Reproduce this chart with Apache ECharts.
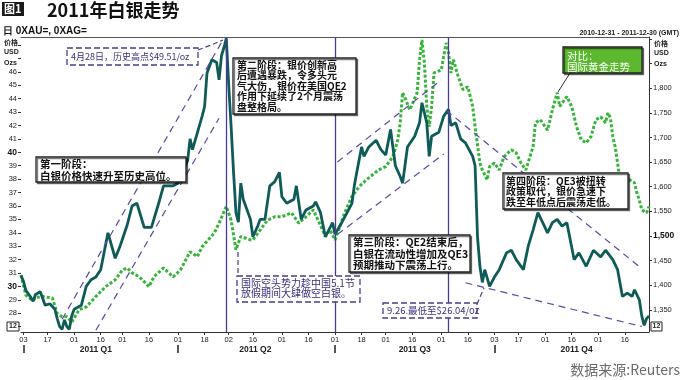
<!DOCTYPE html>
<html><head><meta charset="utf-8">
<script src="https://cdn.jsdelivr.net/npm/echarts@6/dist/echarts.min.js"></script>
<style>html,body{margin:0;padding:0;background:#fff}#c{width:680px;height:380px}</style>
</head><body><div id="c"></div>
<script>
// ---------- data ----------
const silverDates = ['2010-12-31','2011-01-03','2011-01-04','2011-01-06','2011-01-07','2011-01-10','2011-01-12','2011-01-14','2011-01-18','2011-01-20','2011-01-21','2011-01-24','2011-01-25','2011-01-26','2011-01-27','2011-01-28','2011-01-31','2011-02-01','2011-02-04','2011-02-08','2011-02-10','2011-02-14','2011-02-16','2011-02-21','2011-02-24','2011-02-28','2011-03-03','2011-03-07','2011-03-09','2011-03-14','2011-03-17','2011-03-22','2011-03-24','2011-03-30','2011-04-01','2011-04-07','2011-04-08','2011-04-11','2011-04-15','2011-04-18','2011-04-19','2011-04-21','2011-04-25','2011-04-26','2011-04-27','2011-04-28','2011-04-29','2011-05-02','2011-05-03','2011-05-04','2011-05-05','2011-05-06','2011-05-09','2011-05-10','2011-05-13','2011-05-16','2011-05-18','2011-05-19','2011-05-23','2011-05-25','2011-05-27','2011-05-31','2011-06-01','2011-06-03','2011-06-08','2011-06-09','2011-06-13','2011-06-15','2011-06-20','2011-06-21','2011-06-23','2011-06-27','2011-06-30','2011-07-01','2011-07-05','2011-07-08','2011-07-12','2011-07-13','2011-07-14','2011-07-18','2011-07-19','2011-07-21','2011-07-26','2011-07-28','2011-08-01','2011-08-03','2011-08-05','2011-08-09','2011-08-10','2011-08-12','2011-08-17','2011-08-19','2011-08-22','2011-08-24','2011-08-25','2011-08-26','2011-08-31','2011-09-02','2011-09-06','2011-09-07','2011-09-09','2011-09-13','2011-09-15','2011-09-20','2011-09-21','2011-09-22','2011-09-23','2011-09-26','2011-09-27','2011-09-29','2011-10-03','2011-10-05','2011-10-10','2011-10-12','2011-10-14','2011-10-19','2011-10-21','2011-10-25','2011-10-27','2011-10-31','2011-11-02','2011-11-04','2011-11-08','2011-11-10','2011-11-14','2011-11-17','2011-11-21','2011-11-24','2011-11-29','2011-12-02','2011-12-06','2011-12-09','2011-12-13','2011-12-15','2011-12-19','2011-12-21','2011-12-22','2011-12-26','2011-12-27','2011-12-28','2011-12-29','2011-12-30'];
const silverValues = [30.8,30.4,29.7,29.2,28.9,29.4,29.6,28.6,28.7,28.3,27.6,27.0,26.8,27.5,27.0,26.8,27.8,28.3,28.6,30.0,30.5,30.7,31.25,34.0,32.1,33.0,34.6,36.0,36.2,34.4,34.4,36.2,37.5,37.5,37.7,39.4,41.0,40.2,42.7,43.4,45.9,46.9,46.7,45.4,47.2,47.8,48.5,45.0,41.9,38.5,35.5,34.8,37.7,36.5,35.0,33.7,34.5,35.0,35.0,37.5,37.8,38.5,36.7,36.2,36.5,37.5,35.0,35.7,36.0,36.3,35.5,33.7,34.75,33.9,34.5,35.5,36.2,37.5,38.5,40.4,39.7,40.4,40.9,40.2,39.8,41.7,39.0,38.2,37.7,40.4,41.2,42.2,43.7,42.2,39.7,41.2,41.5,42.7,43.2,42.0,42.2,41.0,40.7,39.7,39.0,33.7,31.5,30.3,31.25,30.0,30.7,31.25,32.5,32.7,32.0,31.25,33.0,34.2,35.5,34.75,34.0,34.75,35.0,34.5,34.75,32.0,32.5,31.5,32.7,32.2,32.7,32.0,31.25,29.25,29.5,29.25,29.75,29.0,27.8,27.1,27.6,27.8];
const goldDates = ['2010-12-31','2011-01-04','2011-01-06','2011-01-07','2011-01-10','2011-01-13','2011-01-19','2011-01-21','2011-01-25','2011-01-27','2011-01-31','2011-02-03','2011-02-08','2011-02-14','2011-02-18','2011-02-24','2011-03-01','2011-03-03','2011-03-07','2011-03-10','2011-03-16','2011-03-18','2011-03-24','2011-03-30','2011-04-04','2011-04-08','2011-04-13','2011-04-15','2011-04-22','2011-04-26','2011-04-29','2011-05-03','2011-05-05','2011-05-09','2011-05-13','2011-05-16','2011-05-19','2011-05-24','2011-05-27','2011-06-01','2011-06-07','2011-06-10','2011-06-15','2011-06-20','2011-06-22','2011-06-27','2011-06-29','2011-07-01','2011-07-05','2011-07-07','2011-07-12','2011-07-15','2011-07-20','2011-07-27','2011-08-01','2011-08-04','2011-08-08','2011-08-09','2011-08-10','2011-08-11','2011-08-15','2011-08-18','2011-08-19','2011-08-22','2011-08-23','2011-08-24','2011-08-25','2011-08-26','2011-08-29','2011-09-01','2011-09-05','2011-09-06','2011-09-07','2011-09-08','2011-09-12','2011-09-14','2011-09-16','2011-09-20','2011-09-21','2011-09-23','2011-09-26','2011-09-28','2011-09-29','2011-10-03','2011-10-05','2011-10-07','2011-10-12','2011-10-14','2011-10-18','2011-10-20','2011-10-25','2011-10-26','2011-10-28','2011-11-02','2011-11-04','2011-11-08','2011-11-09','2011-11-14','2011-11-16','2011-11-18','2011-11-22','2011-11-24','2011-11-28','2011-11-30','2011-12-02','2011-12-06','2011-12-07','2011-12-08','2011-12-09','2011-12-12','2011-12-13','2011-12-14','2011-12-20','2011-12-22','2011-12-23','2011-12-26','2011-12-27','2011-12-29','2011-12-30'];
const goldValues = [1421,1380,1372,1369,1375,1377,1374,1343,1336,1336,1325,1350,1356,1377,1397,1411,1431,1435,1425,1417,1397,1417,1435,1417,1431,1468,1458,1478,1506,1526,1560,1532,1472,1499,1492,1492,1512,1532,1539,1539,1547,1526,1539,1553,1532,1499,1512,1492,1519,1547,1580,1600,1614,1634,1641,1661,1695,1730,1791,1780,1756,1791,1858,1898,1852,1763,1722,1763,1831,1837,1892,1872,1831,1858,1824,1797,1803,1763,1722,1648,1634,1614,1641,1648,1634,1661,1675,1669,1648,1634,1681,1730,1736,1715,1756,1791,1763,1783,1763,1722,1695,1689,1702,1736,1742,1730,1750,1740,1702,1681,1648,1614,1614,1608,1587,1573,1553,1547,1560];
const xTickDates = ['2011-01-03','2011-01-17','2011-02-01','2011-02-16','2011-03-01','2011-03-16','2011-04-01','2011-04-18','2011-05-02','2011-05-16','2011-06-01','2011-06-16','2011-07-01','2011-07-18','2011-08-01','2011-08-16','2011-09-01','2011-09-16','2011-10-03','2011-10-17','2011-11-01','2011-11-16','2011-12-01','2011-12-16'];
const quarterStarts = ['2011-01-03','2011-04-01','2011-07-01','2011-10-03'];
const quarterLabelDates = ['2011-02-14','2011-05-17','2011-08-17','2011-11-18'];
const quarterLabels = ['2011 Q1','2011 Q2','2011 Q3','2011 Q4'];
const eventDates = ['2011-04-29','2011-07-01','2011-09-06'];
const trendLines = [
  [['2011-01-25',27.55],['2011-04-27',48.19]],
  [['2011-02-14',26.73],['2011-04-26',42.54]],
  [['2011-07-04',39.28],['2011-09-01',45.40]],
  [['2011-07-04',33.88],['2011-09-02',39.87]],
  [['2011-09-05',43.13],['2011-12-27',31.33]],
  [['2011-09-15',30.27],['2011-12-27',27.01]]
];

// ---------- build ----------
const days = [];
(function(){const d=new Date(Date.UTC(2010,11,31));const e=Date.UTC(2011,11,30);
 while(d.getTime()<=e){const w=d.getUTCDay();if(w!==0&&w!==6)days.push(d.toISOString().slice(0,10));d.setUTCDate(d.getUTCDate()+1);}})();
const silver = silverDates.map((d,i)=>[d,silverValues[i]]);
const gold = goldDates.map((d,i)=>[d,goldValues[i]]);
const PURPLE='#4a3d8f', TXT='#3a2f7e';
const cjk='"Noto Sans CJK SC"';
const lab='"Liberation Sans", Arial, sans-serif';

function dashedBox(x,y,w,h){return {type:'rect',shape:{x,y,width:w,height:h},style:{fill:'rgba(255,255,255,0.9)',stroke:PURPLE,lineWidth:1.3,lineDash:[6,3]},z:50};}
function solidBox(x,y,w,h,fill){return {type:'rect',shape:{x,y,width:w,height:h},style:{fill:fill||'#fff',stroke:'#222',lineWidth:1.3,shadowColor:'rgba(0,0,0,0.5)',shadowOffsetX:1.5,shadowOffsetY:1.5,shadowBlur:0},z:50};}
function txt(x,y,t,font,fill,lh,align,va){return {type:'text',x:x,y:y,z:51,style:{text:t,font:font,fill:fill||'#111',lineHeight:lh||12,align:align||'left',verticalAlign:va||'top',textAlign:align||'left',textVerticalAlign:va||'top'}};}
function dline(pts,dash){return {type:'polyline',shape:{points:pts},style:{stroke:PURPLE,lineWidth:1.2,lineDash:dash||[5,3],fill:null},z:49};}

const graphics = [
  {type:'rect',shape:{x:2,y:2,width:22,height:14},style:{fill:'#1a1a1a'}},
  txt(4,9,'图1','bold 11px '+cjk,'#fff',12,'left','middle'),
  txt(47,10,'2011年白银走势','bold 18px '+cjk,'#111',20,'left','middle'),
  txt(3,31,'日 0XAU=, 0XAG=','bold 10px '+lab,'#111',12,'left','middle'),
  txt(679,33,'2010-12-31 - 2011-12-30 (GMT)','bold 7px '+lab,'#222',9,'right','middle'),
  txt(4,42,'价格','bold 7px '+cjk,'#222',9,'left','middle'),
  txt(4,52.5,'USD','bold 7px '+lab,'#222',9,'left','middle'),
  txt(4,63,'Ozs','bold 7px '+lab,'#222',9,'left','middle'),
  txt(654,43,'价格','bold 7px '+cjk,'#222',9,'left','middle'),
  txt(654,53.5,'USD','bold 7px '+lab,'#222',9,'left','middle'),
  txt(654,64,'Ozs','bold 7px '+lab,'#222',9,'left','middle'),
  {type:'rect',shape:{x:7,y:322,width:12,height:9},style:{fill:'#fff',stroke:'#222',lineWidth:1}},
  txt(13,326.5,'12','bold 7px '+lab,'#222',9,'center','middle'),
  {type:'rect',shape:{x:651,y:322,width:11,height:9},style:{fill:'#fff',stroke:'#222',lineWidth:1}},
  txt(656.5,326.5,'12','bold 7px '+lab,'#222',9,'center','middle'),
  txt(680,370,'数据来源:Reuters','14px '+cjk,'#6a6a6a',16,'right','middle'),
  // peak label
  dashedBox(67,48,131,17),
  txt(71,56.5,'4月28日，历史高点$49.51/oz','9px '+cjk,TXT,12,'left','middle'),
  dline([[198,50],[211,45],[223,40]]),
  // stage 1
  solidBox(36,157,150,25),
  txt(40,158.5,'第一阶段：\n白银价格快速升至历史高位。','bold 10.5px '+cjk,'#111',11.5),
  // stage 2
  solidBox(233,58,123,56),
  txt(237,59.5,'第二阶段：银价创新高\n后遭遇暴跌，令多头元\n气大伤，银价在美国QE2\n作用下延续了2个月震荡\n盘整格局。','bold 10px '+cjk,'#111',10.6),
  // stage 3
  solidBox(349,235,121,37),
  txt(353,236,'第三阶段：QE2结束后，\n白银在流动性增加及QE3\n预期推动下震荡上行。','bold 10.5px '+cjk,'#111',11.7),
  // stage 4
  solidBox(503,173,125,36),
  txt(506,175.5,'第四阶段：QE3被扭转\n政策取代，银价急速下\n跌至年低点后震荡走低。','bold 10px '+cjk,'#111',10.5),
  // gold compare
  {type:'line',shape:{x1:570,y1:73,x2:558,y2:92},style:{stroke:'#333',lineWidth:1},z:49},
  solidBox(563,47,79,26,'#5cb82e'),
  txt(567,50.5,'对比：\n国际黄金走势','10.5px '+cjk,'#fff',11),
  // 5.1 box
  dline([[238,252],[238,276]]),
  dashedBox(237,276,123,26),
  txt(241,278,'国际空头势力趁中国5.1节\n放假期间大肆做空白银。','10px '+cjk,TXT,10.3),
  // 9.26 box
  dline([[477,304],[484,288]]),
  dashedBox(383,303,94,15),
  txt(387,310.5,'9.26.最低至$26.04/oz','9.5px '+cjk,TXT,12,'left','middle')
];

const markData = eventDates.map(d=>({xAxis:d,lineStyle:{color:PURPLE,width:1.3,type:'solid'}}))
  .concat(trendLines.map(t=>[{coord:t[0]},{coord:t[1],lineStyle:{color:'#5b4aa0',width:1.2,type:[7,5]}}]));

const chart = echarts.init(document.getElementById('c'),null,{renderer:'canvas'});
chart.setOption({
  animation:false,
  backgroundColor:'#fff',
  grid:{left:21,right:31,top:37,bottom:48,containLabel:false},
  xAxis:[
    {type:'category',data:days,boundaryGap:false,position:'bottom',
     axisLine:{lineStyle:{color:'#333',width:1}},
     axisTick:{show:true,length:3,interval:(i,v)=>xTickDates.indexOf(v)>=0,lineStyle:{color:'#333'}},
     axisLabel:{interval:(i,v)=>xTickDates.indexOf(v)>=0,formatter:v=>v.slice(8),fontSize:7.5,color:'#222',fontFamily:lab,margin:4},
     splitLine:{show:false}},
    {type:'category',data:days,boundaryGap:false,position:'bottom',offset:13,
     axisLine:{show:false},
     axisTick:{show:true,length:8,interval:(i,v)=>quarterStarts.indexOf(v)>=0,lineStyle:{color:'#222',width:1.5}},
     axisLabel:{interval:(i,v)=>quarterLabelDates.indexOf(v)>=0,formatter:v=>quarterLabels[quarterLabelDates.indexOf(v)]||'',fontSize:8.5,fontWeight:'bold',color:'#222',fontFamily:lab,margin:0},
     splitLine:{show:false}},
    {type:'category',data:days,boundaryGap:false,position:'top',
     axisLine:{lineStyle:{color:'#555',width:1}},axisTick:{show:false},axisLabel:{show:false},splitLine:{show:false}}
  ],
  yAxis:[
    {type:'value',position:'left',min:26.6,max:48.6,splitNumber:22,
     axisLine:{show:false},axisTick:{show:true,length:3,lineStyle:{color:'#333'}},splitLine:{show:false},
     axisLabel:{showMinLabel:false,showMaxLabel:false,margin:4,
       formatter:v=>{if(v<28||v>46||Math.abs(v-Math.round(v))>1e-6)return '';return (v===30||v===40)?'{b|'+v+'}':'{n|'+v+'}';},
       rich:{n:{fontSize:7.5,color:'#222',fontFamily:lab},b:{fontSize:8.5,fontWeight:'bold',color:'#111',fontFamily:lab}}}},
    {type:'value',position:'right',min:1305,max:1904,splitNumber:12,
     axisLine:{show:true,lineStyle:{color:'#333',width:1}},axisTick:{show:true,length:3,lineStyle:{color:'#333'}},splitLine:{show:false},
     axisLabel:{showMinLabel:false,showMaxLabel:false,margin:4,
       formatter:v=>{if(v>1800||v<1350)return '';const s=String(v).replace(/(\d)(\d{3})$/,'$1,$2');return v===1500?'{b|'+s+'}':'{n|'+s+'}';},
       rich:{n:{fontSize:7.5,color:'#222',fontFamily:lab},b:{fontSize:8.5,fontWeight:'bold',color:'#111',fontFamily:lab}}}}
  ],
  series:[
    {name:'金',type:'line',xAxisIndex:0,yAxisIndex:1,data:gold,symbol:'none',
     lineStyle:{color:'#37b43a',width:3,type:[3,2]},z:3},
    {name:'银',type:'line',xAxisIndex:0,yAxisIndex:0,data:silver,symbol:'none',
     lineStyle:{color:'#0f5b58',width:2.8},z:4,
     markLine:{silent:true,symbol:['none','none'],label:{show:false},animation:false,data:markData}}
  ],
  graphic:graphics
});
</script></body></html>
